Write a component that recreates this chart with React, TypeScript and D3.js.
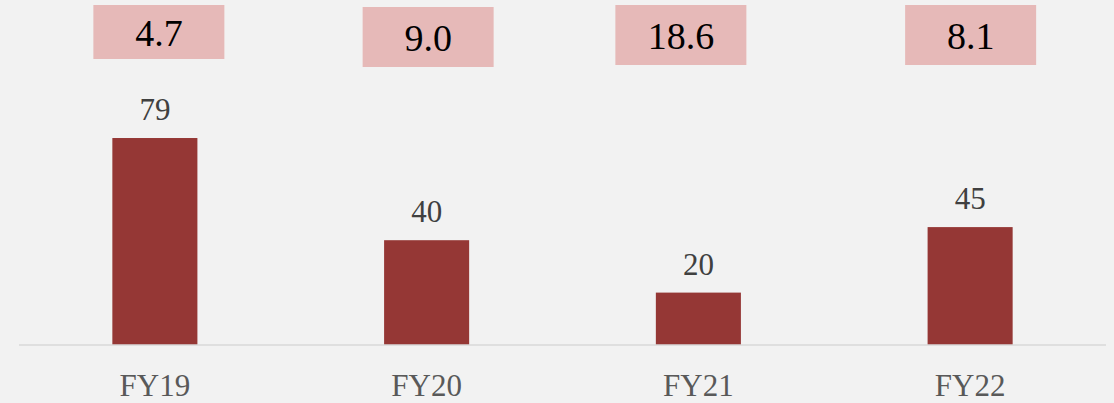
import React from "react";
import * as d3 from "d3";

const categories = ["FY19", "FY20", "FY21", "FY22"];
const barValues = [79, 40, 20, 45];
const boxLabels = ["4.7", "9.0", "18.6", "8.1"];

// hand-placed annotation boxes (nudges relative to bar centre)
const boxNudgeX = [4, 1.5, -17.5, 0.5];
const boxTop = [5, 7, 5, 5];
const boxHeight = [54, 60, 60, 60];

const W = 1114;
const H = 403;
const FONT = "'Liberation Serif', 'Times New Roman', serif";

export default function App() {
  const x = d3.scaleBand<string>()
    .domain(categories)
    .range([19, 1106])
    .paddingInner(0.687)
    .paddingOuter(0.3435);

  const baseline = 345;
  const y = d3.scaleLinear().domain([0, 100]).range([baseline, baseline - 262]);

  const boxW = 131;

  return (
    <div style={{ position: "fixed", left: 0, top: 0 }}>
      <svg width={W} height={H} style={{ display: "block" }}>
        <rect x={0} y={0} width={W} height={H} fill="#f2f2f2" />

        {categories.map((c, i) => {
          const cx = (x(c) ?? 0) + x.bandwidth() / 2;
          const bx = cx + boxNudgeX[i] - boxW / 2;
          return (
            <g key={"box" + c}>
              <rect x={bx} y={boxTop[i]} width={boxW} height={boxHeight[i]} fill="#e6b9b8" />
              <text
                x={bx + boxW / 2}
                y={boxTop[i] + boxHeight[i] / 2 + 14}
                textAnchor="middle"
                fontFamily={FONT}
                fontSize={38}
                fill="#000"
              >
                {boxLabels[i]}
              </text>
            </g>
          );
        })}

        {categories.map((c, i) => (
          <g key={"bar" + c}>
            <rect
              x={x(c)}
              y={y(barValues[i])}
              width={x.bandwidth()}
              height={baseline - y(barValues[i])}
              fill="#953735"
            />
            <text
              x={(x(c) ?? 0) + x.bandwidth() / 2}
              y={y(barValues[i]) - 18}
              textAnchor="middle"
              fontFamily={FONT}
              fontSize={31}
              fill="#404040"
            >
              {barValues[i]}
            </text>
            <text
              x={(x(c) ?? 0) + x.bandwidth() / 2}
              y={baseline + 51}
              textAnchor="middle"
              fontFamily={FONT}
              fontSize={31}
              fill="#595959"
            >
              {c}
            </text>
          </g>
        ))}

        <line x1={19} x2={1106} y1={baseline} y2={baseline} stroke="#d9d9d9" strokeWidth={1.5} />
      </svg>
    </div>
  );
}
